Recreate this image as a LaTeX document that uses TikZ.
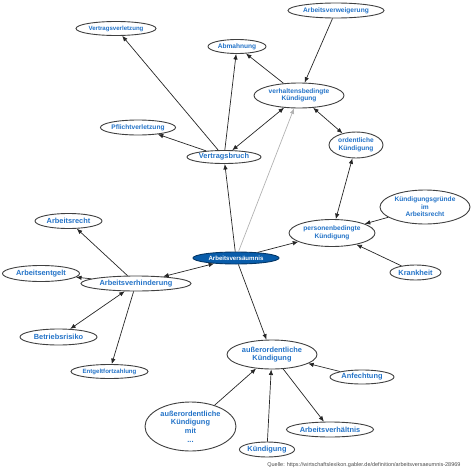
\documentclass[tikz,border=0pt]{standalone}
\usepackage{fontspec}
\setmainfont{Liberation Sans}
\usetikzlibrary{arrows.meta,positioning,shapes.geometric}
\usepackage{xcolor}

\definecolor{labelblue}{RGB}{35,115,200}
\definecolor{hubblue}{RGB}{8,92,170}

\tikzset{
    concept/.style={ellipse, draw=black!75, line width=0.9pt, fill=white, inner sep=0pt,
        text=labelblue, font=\bfseries, align=center},
    sizeS/.style={font=\bfseries\fontsize{6.1}{7.2}\selectfont},
    sizeM/.style={font=\bfseries\fontsize{6.6}{7.4}\selectfont},
    sizeL/.style={font=\bfseries\fontsize{7.4}{8.6}\selectfont},
    hub/.style={concept, fill=hubblue, draw=hubblue!60!black, text=white},
    link/.style={draw=black!85, line width=0.7pt, -{Latex[length=5.5pt,width=4.5pt]}},
    twoway/.style={link, {Latex[length=5.5pt,width=4.5pt]}-{Latex[length=5.5pt,width=4.5pt]}},
    faint/.style={draw=black!30, line width=0.7pt, -{Latex[length=5.5pt,width=4.5pt]}}
}

\begin{document}
\begin{tikzpicture}[x=1pt, y=-1pt]
    \useasboundingbox (0,0) rectangle (474,474);

    % Upper part
    \node[concept, sizeS, minimum width=80pt, minimum height=14pt] (vverletzung) at (116,28.5) {Vertragsverletzung};
    \node[concept, sizeM, minimum width=58pt, minimum height=14pt] (abmahnung) at (237,46.5) {Abmahnung};
    \node[concept, sizeM, minimum width=96pt, minimum height=15pt] (verweigerung) at (336,10.5) {Arbeitsverweigerung};
    \node[concept, sizeM, minimum width=90pt, minimum height=25pt] (verhalten) at (299,95.5) {verhaltensbedingte\\Kündigung};
    \node[concept, sizeM, minimum width=74pt, minimum height=15pt] (pflicht) at (138,127.5) {Pflichtverletzung};
    \node[concept, sizeL, minimum width=74pt, minimum height=13pt] (vbruch) at (224,157) {Vertragsbruch};
    \node[concept, sizeM, minimum width=54pt, minimum height=26pt] (ordentlich) at (356,145) {ordentliche\\Kündigung};
    \node[concept, sizeM, minimum width=90pt, minimum height=34pt] (gruende) at (425,207) {Kündigungsgründe\\im\\Arbeitsrecht};
    \node[concept, sizeM, minimum width=86pt, minimum height=27pt] (person) at (332,233) {personenbedingte\\Kündigung};
    \node[concept, sizeL, minimum width=51pt, minimum height=15pt] (krank) at (415.5,272.5) {Krankheit};

    % Centre
    \node[hub, sizeS, minimum width=86pt, minimum height=12pt] (versaeumnis) at (236,258) {Arbeitsversäumnis};

    % Left part
    \node[concept, sizeL, minimum width=67pt, minimum height=15pt] (arecht) at (68.5,221) {Arbeitsrecht};
    \node[concept, sizeL, minimum width=77pt, minimum height=16pt] (entgelt) at (41,273.5) {Arbeitsentgelt};
    \node[concept, sizeL, minimum width=110pt, minimum height=15pt] (verhinderung) at (136,283.5) {Arbeitsverhinderung};
    \node[concept, sizeL, minimum width=77pt, minimum height=16pt] (risiko) at (58.5,337) {Betriebsrisiko};
    \node[concept, sizeS, minimum width=77pt, minimum height=14pt] (fortzahlung) at (109.5,371.5) {Entgeltfortzahlung};

    % Lower part
    \node[concept, sizeL, minimum width=90pt, minimum height=29pt] (ausser) at (272,354.5) {außerordentliche\\Kündigung};
    \node[concept, sizeL, minimum width=64pt, minimum height=14pt] (anfechtung) at (362,377) {Anfechtung};
    \node[concept, sizeL, minimum width=87pt, minimum height=15pt] (verhaeltnis) at (330,429.5) {Arbeitsverhältnis};
    \node[concept, sizeL, minimum width=54pt, minimum height=15pt] (kuendigung) at (267,449.5) {Kündigung};
    \node[concept, sizeL, minimum width=91pt, minimum height=49pt] (aussermit) at (190.5,426.5) {außerordentliche\\Kündigung\\mit\\...};

    % One-way links
    \foreach \from/\to in {vbruch/vverletzung, vbruch/pflicht, vbruch/abmahnung,
        verhalten/abmahnung, verweigerung/verhalten, gruende/person, krank/person,
        versaeumnis/person, versaeumnis/vbruch, versaeumnis/ausser,
        verhinderung/arecht, verhinderung/entgelt, verhinderung/fortzahlung,
        anfechtung/ausser, ausser/verhaeltnis, kuendigung/ausser, aussermit/ausser}
        \draw[link] (\from) -- (\to);

    % Two-way links
    \foreach \from/\to in {vbruch/verhalten, verhalten/ordentlich, ordentlich/person,
        versaeumnis/verhinderung, verhinderung/risiko}
        \draw[twoway] (\from) -- (\to);

    \draw[faint] (versaeumnis) -- (verhalten);

    % Source
    \node[anchor=east, text=black!70, font=\fontsize{5.5}{6}\selectfont] (quelle) at (464,465)
        {Quelle: https://wirtschaftslexikon.gabler.de/definition/arbeitsversaeumnis-28969};
\end{tikzpicture}
\end{document}
